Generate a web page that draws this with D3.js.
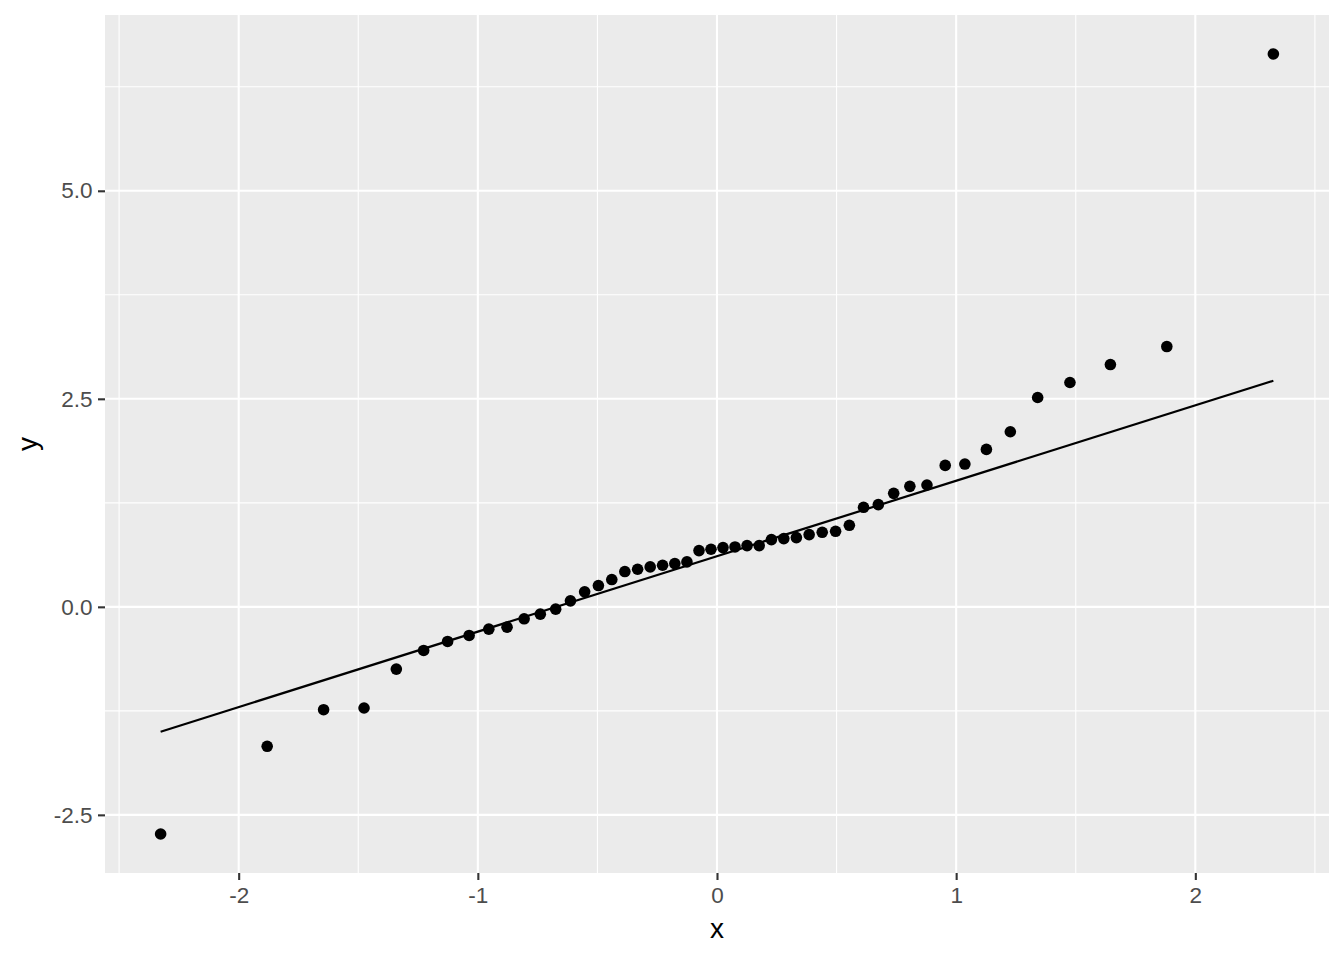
<!DOCTYPE html>
<html>
<head>
<meta charset="utf-8">
<script src="https://cdn.jsdelivr.net/npm/d3@7"></script>
<style>
  body { margin: 0; background: #fff; }
  text { font-family: "Liberation Sans", Arial, sans-serif; }
</style>
</head>
<body>
<div id="viz"></div>
<script>
// theoretical quantiles (x) and sample values (y)
const theoretical = [
  -2.3263, -1.8808, -1.6449, -1.4758, -1.3408, -1.2265, -1.1264, -1.0364, -0.9542, -0.8779,
  -0.8064, -0.7388, -0.6745, -0.6128, -0.5534, -0.4959, -0.4399, -0.3853, -0.3319, -0.2793,
  -0.2275, -0.1764, -0.1257, -0.0753, -0.0251, 0.0251, 0.0753, 0.1257, 0.1764, 0.2275,
  0.2793, 0.3319, 0.3853, 0.4399, 0.4959, 0.5534, 0.6128, 0.6745, 0.7388, 0.8064,
  0.8779, 0.9542, 1.0364, 1.1264, 1.2265, 1.3408, 1.4758, 1.6449, 1.8808, 2.3263
];
const sample = [
  -2.73, -1.676, -1.236, -1.216, -0.748, -0.524, -0.416, -0.344, -0.268, -0.244,
  -0.144, -0.088, -0.028, 0.072, 0.18, 0.256, 0.328, 0.424, 0.452, 0.48,
  0.50, 0.52, 0.54, 0.676, 0.692, 0.712, 0.72, 0.736, 0.736, 0.808,
  0.82, 0.832, 0.868, 0.896, 0.908, 0.98, 1.196, 1.228, 1.364, 1.448,
  1.464, 1.70, 1.716, 1.892, 2.104, 2.516, 2.696, 2.912, 3.128, 6.644
];
const xTicks = [-2, -1, 0, 1, 2];
const xMinor = [-2.5, -1.5, -0.5, 0.5, 1.5, 2.5];
const yTicks = [-2.5, 0, 2.5, 5.0];
const yMinor = [-1.25, 1.25, 3.75, 6.25];

const width = 1344, height = 960;
const panel = { left: 105, right: 1329, top: 15, bottom: 873 };

const svg = d3.select('#viz').append('svg')
  .attr('width', width)
  .attr('height', height);

// ggplot-style 5% expansion
function expand(ext) {
  const pad = (ext[1] - ext[0]) * 0.05;
  return [ext[0] - pad, ext[1] + pad];
}

const x = d3.scaleLinear()
  .domain(expand(d3.extent(theoretical)))
  .range([panel.left, panel.right]);
const y = d3.scaleLinear()
  .domain(expand(d3.extent(sample)))
  .range([panel.bottom, panel.top]);

// panel background
svg.append('rect')
  .attr('x', panel.left).attr('y', panel.top)
  .attr('width', panel.right - panel.left)
  .attr('height', panel.bottom - panel.top)
  .attr('fill', '#ebebeb');

const grid = svg.append('g');
grid.selectAll('.xminor').data(xMinor).enter().append('line')
  .attr('x1', d => x(d)).attr('x2', d => x(d))
  .attr('y1', panel.top).attr('y2', panel.bottom)
  .attr('stroke', '#fff').attr('stroke-width', 1.1);
grid.selectAll('.yminor').data(yMinor).enter().append('line')
  .attr('y1', d => y(d)).attr('y2', d => y(d))
  .attr('x1', panel.left).attr('x2', panel.right)
  .attr('stroke', '#fff').attr('stroke-width', 1.1);
grid.selectAll('.xmajor').data(xTicks).enter().append('line')
  .attr('x1', d => x(d)).attr('x2', d => x(d))
  .attr('y1', panel.top).attr('y2', panel.bottom)
  .attr('stroke', '#fff').attr('stroke-width', 2.1);
grid.selectAll('.ymajor').data(yTicks).enter().append('line')
  .attr('y1', d => y(d)).attr('y2', d => y(d))
  .attr('x1', panel.left).attr('x2', panel.right)
  .attr('stroke', '#fff').attr('stroke-width', 2.1);

// qq line through the quartiles, like stat_qq_line
const sorted = sample.slice().sort(d3.ascending);
const q1 = d3.quantileSorted(sorted, 0.25), q3 = d3.quantileSorted(sorted, 0.75);
const z1 = -0.6745, z3 = 0.6745;
const slope = (q3 - q1) / (z3 - z1);
const intercept = q1 - slope * z1;
const xEnds = d3.extent(theoretical);

svg.append('line')
  .attr('x1', x(xEnds[0])).attr('y1', y(intercept + slope * xEnds[0]))
  .attr('x2', x(xEnds[1])).attr('y2', y(intercept + slope * xEnds[1]))
  .attr('stroke', '#000').attr('stroke-width', 2.2);

// points
svg.append('g').selectAll('circle')
  .data(theoretical.map((t, i) => ({ t, v: sample[i] })))
  .enter().append('circle')
  .attr('cx', d => x(d.t))
  .attr('cy', d => y(d.v))
  .attr('r', 5.8)
  .attr('fill', '#000');

// axes (plain hyphen for negatives, as in R)
const fmtX = d => d3.format('d')(d).replace('\u2212', '-');
const fmtY = d => d3.format('.1f')(d).replace('\u2212', '-');

const xAxis = svg.append('g')
  .attr('transform', `translate(0,${panel.bottom})`)
  .call(d3.axisBottom(x).tickValues(xTicks).tickSize(7).tickPadding(5).tickFormat(fmtX));
const yAxis = svg.append('g')
  .attr('transform', `translate(${panel.left},0)`)
  .call(d3.axisLeft(y).tickValues(yTicks).tickSize(7).tickPadding(5.5).tickFormat(fmtY));

[xAxis, yAxis].forEach(ax => {
  ax.attr('font-size', null).attr('font-family', null);
  ax.select('.domain').remove();
  ax.selectAll('.tick line').attr('stroke', '#333').attr('stroke-width', 2.1);
  ax.selectAll('.tick text')
    .attr('fill', '#4d4d4d')
    .attr('font-size', 22.5);
});
xAxis.selectAll('.tick text').attr('dy', '0.8em');

// axis titles
svg.append('text')
  .attr('x', (panel.left + panel.right) / 2)
  .attr('y', 938)
  .attr('text-anchor', 'middle')
  .attr('font-size', 28)
  .text('x');
svg.append('text')
  .attr('transform', `translate(37,${(panel.top + panel.bottom) / 2}) rotate(-90)`)
  .attr('text-anchor', 'middle')
  .attr('font-size', 28)
  .text('y');
</script>
</body>
</html>
